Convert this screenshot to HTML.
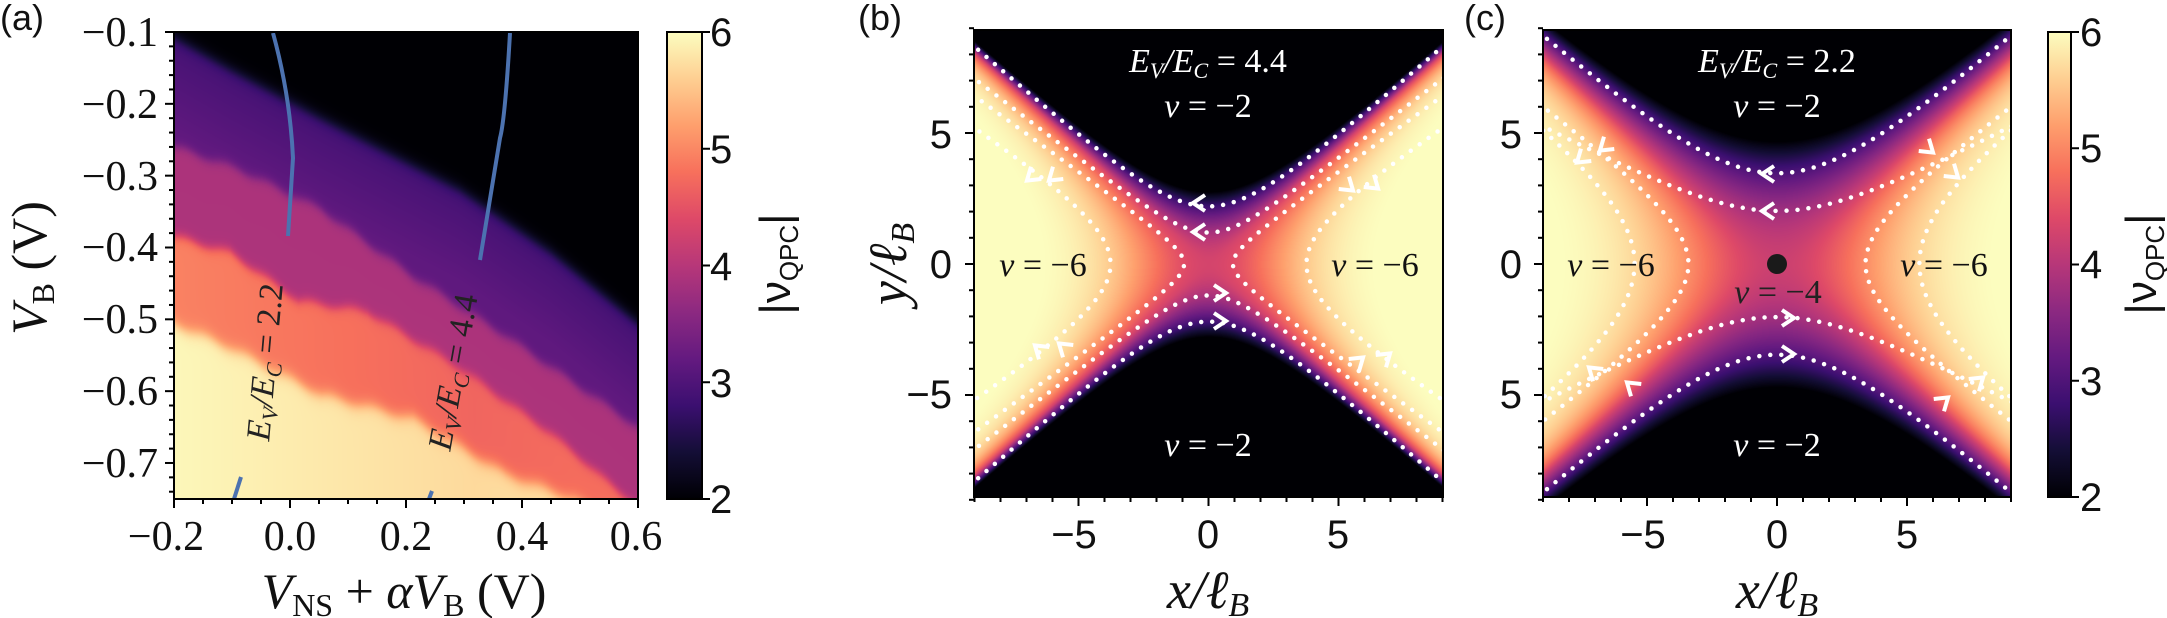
<!DOCTYPE html>
<html><head><meta charset="utf-8"><style>
html,body{margin:0;padding:0;background:#fff;width:2167px;height:618px;overflow:hidden}
canvas{position:absolute}
svg{position:absolute;left:0;top:0}
</style></head><body>
<canvas id="ca" width="464" height="467" style="left:174px;top:32px"></canvas>
<canvas id="cb" width="469" height="467" style="left:974px;top:30px"></canvas>
<canvas id="cc" width="468" height="467" style="left:1543px;top:30px"></canvas>
<svg width="2167" height="618" xmlns="http://www.w3.org/2000/svg">
<defs>
<linearGradient id="mg" x1="0" y1="1" x2="0" y2="0">
<stop offset="0" stop-color="#000004"/><stop offset="0.1" stop-color="#140e36"/><stop offset="0.2" stop-color="#3b0f70"/><stop offset="0.3" stop-color="#641a80"/><stop offset="0.4" stop-color="#8c2981"/><stop offset="0.5" stop-color="#b73779"/><stop offset="0.6" stop-color="#de4968"/><stop offset="0.7" stop-color="#f7705c"/><stop offset="0.8" stop-color="#fe9f6d"/><stop offset="0.9" stop-color="#fecf92"/><stop offset="1" stop-color="#fcfdbf"/>
</linearGradient>
<clipPath id="clb"><rect x="974" y="30" width="469" height="467"/></clipPath>
<clipPath id="clc"><rect x="1543" y="30" width="468" height="467"/></clipPath>
</defs>
<g id="dyn"></g>
<rect x="174" y="32" width="464" height="467" fill="none" stroke="#000" stroke-width="2"/>
<rect x="974" y="30" width="469" height="467" fill="none" stroke="#000" stroke-width="2"/>
<rect x="1543" y="30" width="468" height="467" fill="none" stroke="#000" stroke-width="2"/>
<rect x="667" y="32" width="35" height="467" fill="url(#mg)" stroke="#000" stroke-width="2"/>
<rect x="2048" y="32" width="23" height="465" fill="url(#mg)" stroke="#000" stroke-width="2"/>
<g font-family="Liberation Sans, sans-serif" font-size="36" fill="#111">
<text x="0" y="30">(a)</text><text x="858" y="30">(b)</text><text x="1464" y="30">(c)</text>
</g>
<g font-family="Liberation Serif, serif" font-size="42" fill="#111" text-anchor="end">
<text x="158" y="46">−0.1</text><text x="158" y="118">−0.2</text><text x="158" y="190">−0.3</text><text x="158" y="261">−0.4</text><text x="158" y="333">−0.5</text><text x="158" y="405">−0.6</text><text x="158" y="477">−0.7</text>
</g>
<g font-family="Liberation Serif, serif" font-size="42" fill="#111" text-anchor="middle">
<text x="166" y="550">−0.2</text><text x="290" y="550">0.0</text><text x="406" y="550">0.2</text><text x="522" y="550">0.4</text><text x="636" y="550">0.6</text>
</g>
<text font-family="Liberation Serif, serif" font-size="50" fill="#111" text-anchor="middle" x="404" y="608"><tspan font-style="italic">V</tspan><tspan font-size="32" dy="8">NS</tspan><tspan dy="-8"> + </tspan><tspan font-style="italic">αV</tspan><tspan font-size="32" dy="8">B</tspan><tspan dy="-8"> (V)</tspan></text>
<text font-family="Liberation Serif, serif" font-size="50" fill="#111" text-anchor="middle" transform="translate(46,268) rotate(-90)"><tspan font-style="italic">V</tspan><tspan font-size="32" dy="8">B</tspan><tspan dy="-8"> (V)</tspan></text>
<g font-family="Liberation Serif, serif" font-size="34" fill="#222" text-anchor="middle" font-style="italic">
<text transform="translate(276,363) rotate(-85)">E<tspan font-size="22" dy="6">V</tspan><tspan dy="-6">/E</tspan><tspan font-size="22" dy="6">C</tspan><tspan dy="-6" font-style="normal"> = 2.2</tspan></text>
<text transform="translate(464,374) rotate(-80)">E<tspan font-size="22" dy="6">V</tspan><tspan dy="-6">/E</tspan><tspan font-size="22" dy="6">C</tspan><tspan dy="-6" font-style="normal"> = 4.4</tspan></text>
</g>
<g font-family="Liberation Sans, sans-serif" font-size="40" fill="#111">
<text x="710" y="46">6</text><text x="710" y="163">5</text><text x="710" y="280">4</text><text x="710" y="397">3</text><text x="710" y="513">2</text>
<text x="2080" y="46">6</text><text x="2080" y="162">5</text><text x="2080" y="278">4</text><text x="2080" y="395">3</text><text x="2080" y="511">2</text>
</g>
<g font-family="Liberation Sans, sans-serif" font-size="44" fill="#111" text-anchor="middle">
<text transform="translate(790,264) rotate(-90)">|ν<tspan font-size="26" dy="8">QPC</tspan><tspan dy="-8">|</tspan></text>
<text transform="translate(2156,264) rotate(-90)">|ν<tspan font-size="26" dy="8">QPC</tspan><tspan dy="-8">|</tspan></text>
</g>
<g font-family="Liberation Sans, sans-serif" font-size="40" fill="#111" text-anchor="end">
<text x="952" y="148">5</text><text x="952" y="278">0</text><text x="952" y="408">−5</text>
<text x="1522" y="148">5</text><text x="1522" y="278">0</text><text x="1522" y="408">5</text>
</g>
<g font-family="Liberation Sans, sans-serif" font-size="40" fill="#111" text-anchor="middle">
<text x="1074" y="548">−5</text><text x="1208" y="548">0</text><text x="1338" y="548">5</text>
<text x="1643" y="548">−5</text><text x="1777" y="548">0</text><text x="1907" y="548">5</text>
</g>
<g font-family="Liberation Serif, serif" font-size="54" fill="#111" text-anchor="middle" font-style="italic">
<text x="1208" y="608">x/ℓ<tspan font-size="34" dy="8">B</tspan></text>
<text x="1777" y="608">x/ℓ<tspan font-size="34" dy="8">B</tspan></text>
<text transform="translate(906,264) rotate(-90)">y/ℓ<tspan font-size="34" dy="8">B</tspan></text>
</g>
<g font-family="Liberation Serif, serif" font-size="34" text-anchor="middle" font-style="italic">
<text x="1208" y="72" fill="#fff">E<tspan font-size="22" dy="6">V</tspan><tspan dy="-6">/E</tspan><tspan font-size="22" dy="6">C</tspan><tspan dy="-6" font-style="normal"> = 4.4</tspan></text>
<text x="1208" y="117" fill="#fff">ν <tspan font-style="normal">= −2</tspan></text>
<text x="1208" y="456" fill="#fff">ν <tspan font-style="normal">= −2</tspan></text>
<text x="1043" y="276" fill="#111">ν <tspan font-style="normal">= −6</tspan></text>
<text x="1375" y="276" fill="#111">ν <tspan font-style="normal">= −6</tspan></text>
<text x="1777" y="72" fill="#fff">E<tspan font-size="22" dy="6">V</tspan><tspan dy="-6">/E</tspan><tspan font-size="22" dy="6">C</tspan><tspan dy="-6" font-style="normal"> = 2.2</tspan></text>
<text x="1777" y="117" fill="#fff">ν <tspan font-style="normal">= −2</tspan></text>
<text x="1777" y="456" fill="#fff">ν <tspan font-style="normal">= −2</tspan></text>
<text x="1611" y="276" fill="#111">ν <tspan font-style="normal">= −6</tspan></text>
<text x="1944" y="276" fill="#111">ν <tspan font-style="normal">= −6</tspan></text>
<text x="1778" y="303" fill="#222">ν <tspan font-style="normal">= −4</tspan></text>
</g>
<circle cx="1777" cy="264" r="10" fill="#1a1a1a"/>
</svg>
<script>
var st=[[0,0,0,4],[.1,20,14,54],[.2,59,15,112],[.3,100,26,128],[.4,140,41,129],[.5,183,55,121],[.6,222,73,104],[.7,247,112,92],[.8,254,159,109],[.9,254,207,146],[1,252,253,191]];
function mag(t){t=Math.max(0,Math.min(1,t));for(var i=1;i<st.length;i++){if(t<=st[i][0]){var a=st[i-1],b=st[i],f=(t-a[0])/(b[0]-a[0]);return [a[1]+f*(b[1]-a[1]),a[2]+f*(b[2]-a[2]),a[3]+f*(b[3]-a[3])];}}return st[10].slice(1);}
function fill(id,fn){var c=document.getElementById(id),x=c.getContext('2d'),W=c.width,H=c.height,im=x.createImageData(W,H);
for(var j=0;j<H;j++)for(var i=0;i<W;i++){var v=fn(i,j),col=mag((v-2)/4),k=(j*W+i)*4;im.data[k]=col[0];im.data[k+1]=col[1];im.data[k+2]=col[2];im.data[k+3]=255;}x.putImageData(im,0,0);}
function interp(p,x){if(x<=p[0][0])return p[0][1];for(var i=1;i<p.length;i++)if(x<=p[i][0]){var f=(x-p[i-1][0])/(p[i][0]-p[i-1][0]);return p[i-1][1]+f*(p[i][1]-p[i-1][1]);}return p[p.length-1][1];}
function ss(d,w){return 1/(1+Math.exp(-d/w));}
var B1=[[0,5],[56,37],[147,86],[285,157],[377,220],[464,291]];
var B2=[[0,114],[65,137],[147,177],[239,244],[331,303],[464,395]];
var B3=[[0,204],[56,220],[124,268],[193,279],[285,335],[377,401],[464,475]];
var B4=[[0,291],[56,315],[147,362],[239,386],[331,441],[400,467],[464,510]];
fill('ca',function(i,j){var w=Math.sin(i*0.15)*2,d1=j-interp(B1,i);return 2+0.9*ss(d1,4)+0.25*(d1>0?Math.min(1,d1/90):0)+0.75*ss(j-interp(B2,i)+w,3)+(0.55+0.5*Math.max(0,1-i/464*0.8))*ss(j-interp(B3,i)+w,3)+1.0*ss(j-interp(B4,i)-w,4)+0.25*Math.max(0,(i-300)/164)*ss(j-interp(B3,i),3);});
fill('cb',function(i,j){var x=(i-234.5)/26,y=(234-j)/26.2,g=0.8*x*x-y*y;return g<0?4.3+0.3*g:4.3+1.75*(1-Math.exp(-g/9));});
fill('cc',function(i,j){var x=(i-234)/26,y=(234-j)/26.2,g=0.8*x*x-y*y;return g<0?4.2+0.1*g:4.2+1.85*(1-Math.exp(-g/15));});
var s='';
function dots(cx,cy,vt,hz,clip,col){var out='<g clip-path="url(#'+clip+')" fill="none" stroke="'+col+'" stroke-width="4.5" stroke-linecap="round" stroke-dasharray="0 11">';
vt.forEach(function(p){[1,-1].forEach(function(sg){var d='';for(var x=-9.5;x<=9.5;x+=0.05){var y=sg*Math.sqrt(p[0]+p[1]*x*x);d+=(d?'L':'M')+(cx+x*26).toFixed(1)+' '+(cy-y*26.2).toFixed(1);}out+='<path d="'+d+'"/>';});});
hz.forEach(function(p){[1,-1].forEach(function(sg){var d='';for(var y=-10;y<=10;y+=0.05){var x=sg*Math.sqrt(p[0]+p[1]*y*y);if(Math.abs(x)>9.6)continue;d+=(d?'L':'M')+(cx+x*26).toFixed(1)+' '+(cy-y*26.2).toFixed(1);}out+='<path d="'+d+'"/>';});});
return out+'</g>';}
s+=dots(1208.5,264,[[4.84,0.79],[1.44,0.6]],[[0.88,1.95],[14.2,2.48]],'clb','#fff');
s+=dots(1777,264,[[12,0.79],[4.1,0.29]],[[11.6,1.93],[30,1.96]],'clc','#fff');
s+='<path d="M273 33 Q290 95 293 158 L288 236" fill="none" stroke="#4c72b0" stroke-width="4"/>';
s+='<path d="M241 477 L234 499" fill="none" stroke="#4c72b0" stroke-width="4"/>';
s+='<path d="M510 33 Q505 120 500 138 L480 260" fill="none" stroke="#4c72b0" stroke-width="4"/>';
s+='<path d="M432 491 L429 499" fill="none" stroke="#4c72b0" stroke-width="4"/>';
var t='<g stroke="#000" stroke-width="2">';
for(var k=0;k<=32;k++){var v=-0.1-k*0.02,y=32+(-0.1-v)*718.3;if(y>499.5)break;var mj=(k%5==0);t+='<line x1="'+(174-(mj?9:5))+'" x2="174" y1="'+y+'" y2="'+y+'"/>';}
for(var k=0;k<=16;k++){var x=174+k*0.05*580,mj=(k%4==0);t+='<line x1="'+x+'" x2="'+x+'" y1="499" y2="'+(499+(mj?9:5))+'"/>';}
[[974,1208.5],[1543,1777]].forEach(function(p){for(var u=-9;u<=9;u++){var x=p[1]+u*26,mj=(u%5==0);t+='<line x1="'+x+'" x2="'+x+'" y1="497" y2="'+(497+(mj?9:5))+'"/>';var y=264-u*26.2;t+='<line x1="'+(p[0]-(mj?9:5))+'" x2="'+p[0]+'" y1="'+y+'" y2="'+y+'"/>';}});
for(var k=0;k<=4;k++){var y=32+k*116.75;t+='<line x1="702" x2="710" y1="'+y+'" y2="'+y+'"/>';var y2=32+k*116.25;t+='<line x1="2071" x2="2079" y1="'+y2+'" y2="'+y2+'"/>';}
t+='</g>';
function chev(x,y,a){return '<path transform="translate('+x+','+y+') rotate('+a+')" d="M8 -8 L-4 0 L8 8" fill="none" stroke="#fff" stroke-width="4"/>';}
var c='';
[[1197,203,0],[1197,232,0],[1222,293,180],[1222,321,180],[1030,178,-40],[1052,178,-40],[1038,348,40],[1062,346,40],[1350,188,220],[1375,186,220],[1360,360,140],[1387,356,140],
[1766,174,0],[1766,211,0],[1790,318,180],[1790,354,180],[1580,160,-40],[1603,148,-40],[1592,370,40],[1630,385,40],[1930,150,220],[1955,175,220],[1945,400,140],[1980,380,140]].forEach(function(p){c+=chev(p[0],p[1],p[2]);});
document.getElementById('dyn').innerHTML=s+t+c;
</script>
</body></html>
